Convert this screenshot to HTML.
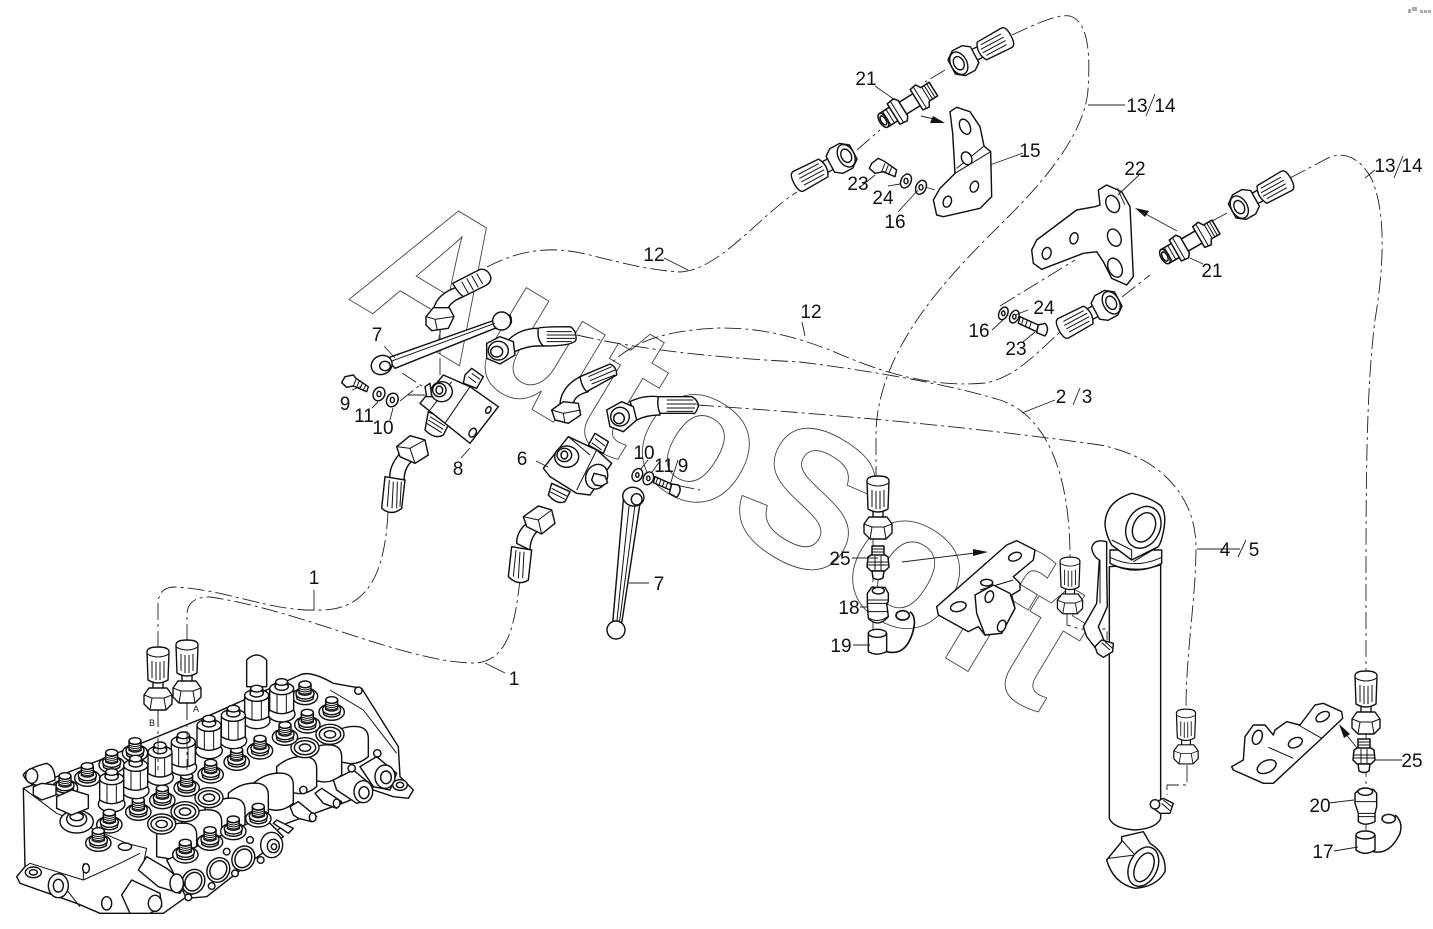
<!DOCTYPE html>
<html><head><meta charset="utf-8"><style>
html,body{margin:0;padding:0;background:#fff}
svg{display:block}
text{font-family:"Liberation Sans",sans-serif;fill:#111;text-anchor:middle}
.l{font-size:19px}
.d{fill:none;stroke:#222;stroke-width:.9;stroke-dasharray:17 4 3 4}
.s{fill:none;stroke:#222;stroke-width:.9}
.p path,.p ellipse,.p circle,.p rect,.p polygon{stroke:#111;stroke-linejoin:round}
.z{stroke-width:4.3;fill:#fff}
.r{fill:none;stroke-width:3}
</style></head><body>
<svg width="1433" height="929" viewBox="0 0 1433 929" xmlns="http://www.w3.org/2000/svg">
<defs>
<g id="fit" class="p" fill="#fff" stroke-width="1.4">
<rect x="-5" y="33" width="10" height="12"/>
<path d="M-14 47L-9 40H9L14 47V56L8 62H-8L-14 56Z"/>
<path fill="none" stroke-width="1" d="M-14 47L-6 50H6L14 47M-6 50L-8 62M6 50L8 62"/>
<path d="M-11 4Q-11 -1 0 -1Q11 -1 11 4L10 32Q0 38 -10 32Z"/>
<path fill="none" stroke-width="1" d="M-11 6Q0 12 11 6M-6 13V30M-2 14V32M2 14V32M6 13V30"/>
</g>
<g id="fitr" class="p" fill="#fff" stroke-width="1.4">
<rect x="-6" y="33" width="12" height="12"/>
<path d="M-14 47L-9 40H9L14 47V58L8 66H-8L-14 58Z"/>
<ellipse cx="0" cy="58" rx="12" ry="8"/><ellipse cx="0" cy="58" rx="7" ry="5"/>
<path d="M-11 4Q-11 -1 0 -1Q11 -1 11 4L10 32Q0 38 -10 32Z"/>
<path fill="none" stroke-width="1" d="M-6 7V30M-2 6V32M2 6V32M6 7V30"/>
</g>
<g id="nip" class="p" fill="#fff" stroke-width="1.5">
<path d="M-8 -7H12V7H-8Z"/>
<path d="M-29 -8H-14V8H-29Z"/>
<ellipse cx="-29" cy="0" rx="4" ry="8"/><ellipse cx="-29" cy="0" rx="2.5" ry="5"/>
<path fill="none" stroke-width="1" d="M-25 -8V8M-21 -8V8M-17 -8V8"/>
<path d="M-17 -12L-9 -13L-6 -9V9L-9 13L-17 12Z"/>
<path fill="none" stroke-width="1" d="M-13 -12V12"/>
<path d="M10 -12L17 -13L20 -8H30V8H20L17 13L10 12Z"/>
<path fill="none" stroke-width="1" d="M21 -8V8M24 -8V8M27 -8V8M14 -12V12"/>
</g>
<g id="n25" class="p" fill="#fff" stroke-width="1.5">
<path d="M-6 -19H6V-8H-6Z"/>
<path fill="none" stroke-width="1" d="M-6 -16H6M-6 -13H6M-6 -10H6"/>
<path d="M-10 -8L-7 -10H7L10 -8L11 2L7 6H-7L-11 2Z"/>
<path fill="none" stroke-width="1" d="M-10 -3H10M-10 0H10M-3 -9V5M3 -9V5"/>
<path d="M-6 6H6L5 13Q0 16 -5 13Z"/>
</g>
<g id="stud" class="p z">
<ellipse cx="0" cy="14" rx="38" ry="25"/>
<path d="M-26 8L-24 22Q0 36 24 22L26 8Z"/>
<ellipse cx="0" cy="6" rx="27" ry="16"/>
<path d="M-18 -22V6Q0 16 18 6V-22Z"/>
<ellipse cx="0" cy="-22" rx="18" ry="10"/>
<path class="r" d="M-18 -10Q0 0 18 -10M-18 -4Q0 6 18 -4M-18 2Q0 12 18 2M-18 -16Q0 -6 18 -16"/>
</g>
<g id="tall" class="p z">
<ellipse cx="0" cy="62" rx="40" ry="24"/>
<path d="M-36 -10V50Q0 72 36 50V-10Z"/>
<path class="r" d="M-14 -5V60M14 -5V60"/>
<ellipse cx="0" cy="-14" rx="36" ry="18"/>
<ellipse cx="0" cy="-20" rx="20" ry="11"/>
<path class="r" d="M-20 -32V-18M20 -32V-18"/>
<ellipse cx="0" cy="-34" rx="18" ry="10"/>
</g>
<g id="capb" class="p z">
<ellipse cx="0" cy="0" rx="42" ry="30"/>
<ellipse cx="0" cy="0" rx="32" ry="21"/>
<ellipse cx="0" cy="0" rx="17" ry="11"/>
</g>
<g id="block" class="p z">
<path d="M-60 -10Q-20 -45 30 -40Q60 -35 60 -5V50Q30 75 0 70L-60 60Z"/>
</g>
<g id="rp" class="p z">
<ellipse rx="33" ry="38" transform="rotate(30)"/>
<ellipse rx="24" ry="29" transform="rotate(30)"/>
</g>
</defs>

<rect width="1433" height="929" fill="#fff"/>

<!-- watermark -->
<text transform="translate(345 297) rotate(31)" x="0" y="0" style="font-size:192px;font-weight:bold;fill:#fff;stroke:#444;stroke-width:.9;text-anchor:start">AutoSoft</text>

<!-- corner mark -->
<g fill="#aaa"><rect x="1408" y="9" width="3" height="4"/><rect x="1412" y="7" width="5" height="4"/><rect x="1420" y="10" width="3" height="3"/><rect x="1424" y="10" width="3" height="3"/><rect x="1428" y="10" width="3" height="3"/></g>

<!-- dashed hoses -->
<path class="d" d="M158 648V605Q158 587 175 587C230 590 270 612 320 610C370 610 385 570 388 512"/>
<path class="d" d="M187 641V615Q187 597 210 597C300 610 400 660 470 663C510 665 515 620 520 580"/>
<path class="d" d="M487 267C520 250 550 245 590 255C630 265 650 270 680 272C720 270 760 215 797 192"/>
<path class="d" d="M1012 35C1040 22 1058 14 1070 16C1090 22 1090 60 1088 90C1085 130 1050 175 1010 215C960 265 880 340 876 430V477"/>
<path class="d" d="M1290 178L1330 157C1350 150 1365 165 1372 180C1385 210 1385 260 1375 320C1365 400 1366 500 1366 672"/>
<path class="d" d="M600 378C620 345 660 330 720 328C760 328 790 335 830 350C880 372 930 388 985 383C1015 378 1040 350 1060 332"/>
<path class="d" d="M577 335C640 350 720 358 800 362C880 372 950 385 1000 400C1045 415 1070 470 1070 558"/>
<path class="d" d="M697 405C800 412 960 425 1100 445C1165 458 1195 500 1196 545C1196 600 1186 650 1186 710"/>
<!-- short dashed connectors -->
<path class="d" d="M158 710V770M187 703V770M873 537V640M1366 732V830M1187 765V785H1167V795M1067 612V625L1080 629H1107V640M400 401L420 385M650 480L700 490M945 70L925 82M857 150L880 130M1122 297L1150 275M1227 213L1205 225"/>
<path class="d" d="M1000 306L1075 260M925 187L935 190M408 395H425M402 373L425 388"/>
<path class="d" d="M440 330V395"/>

<!-- valve block, zoom 1 -->
<g transform="translate(0 620) scale(.33333)" class="p z">
<path d="M70 505L170 470L300 420L620 290L900 165Q930 150 1000 190L1085 205L1195 380L1200 470L1240 510L1225 535L1180 530L1120 510L1040 545L860 610L560 830L490 880H300L230 850L60 790L50 770L75 740Z"/>
<path class="r" d="M70 505L170 580L380 670L440 685L430 730M75 740L90 730L250 780L360 730L420 700M250 780V730M200 810L240 860"/>
<g class="r"><path d="M990 210L1090 270L1190 400"/></g>
<ellipse cx="375" cy="680" rx="20" ry="11"/><ellipse cx="100" cy="757" rx="24" ry="16"/><ellipse cx="100" cy="757" rx="12" ry="8"/>
<ellipse cx="258" cy="745" rx="10" ry="14"/><ellipse cx="320" cy="850" rx="15" ry="20"/>
<ellipse cx="175" cy="797" rx="30" ry="36"/><ellipse cx="175" cy="797" rx="15" ry="19"/>
<use href="#block" x="1045" y="360"/><use href="#block" x="965" y="415"/><use href="#block" x="890" y="450"/><use href="#block" x="820" y="500"/><use href="#block" x="745" y="530"/><use href="#block" x="675" y="575"/><use href="#block" x="605" y="610"/><use href="#block" x="530" y="650"/>
<use href="#capb" x="990" y="343"/><use href="#capb" x="915" y="383"/><use href="#capb" x="485" y="612"/><use href="#capb" x="555" y="575"/><use href="#capb" x="627" y="533"/>
<!-- tube at rear -->
<path d="M740 200V120Q770 90 800 120V200Z"/>
<use href="#stud" x="995" y="262"/><use href="#stud" x="915" y="215"/><use href="#stud" x="922" y="300"/><use href="#stud" x="855" y="337"/><use href="#stud" x="780" y="378"/><use href="#stud" x="710" y="412"/><use href="#stud" x="632" y="450"/><use href="#stud" x="560" y="490"/><use href="#stud" x="487" y="527"/><use href="#stud" x="415" y="562"/>
<use href="#stud" x="405" y="385"/><use href="#stud" x="335" y="420"/><use href="#stud" x="262" y="460"/><use href="#stud" x="195" y="490"/>
<use href="#tall" x="845" y="220"/><use href="#tall" x="770" y="240"/><use href="#tall" x="700" y="300"/><use href="#tall" x="627" y="330"/><use href="#tall" x="550" y="380"/><use href="#tall" x="480" y="410"/><use href="#tall" x="407" y="450"/><use href="#tall" x="335" y="490"/>
<use href="#stud" x="328" y="600"/><use href="#stud" x="295" y="655"/>
<ellipse cx="230" cy="605" rx="50" ry="34"/><ellipse cx="230" cy="597" rx="30" ry="22"/><ellipse cx="230" cy="590" rx="20" ry="12"/>
<path d="M170 530L215 510L265 525V565L215 585L170 565Z"/>
<!-- elbow -->
<path d="M70 465Q80 445 140 430Q165 440 165 480L125 495Q85 500 70 465Z"/><ellipse cx="95" cy="468" rx="18" ry="22"/>
<path d="M100 500L125 490L168 495V525L125 540L100 525Z"/>
<!-- front ports -->
<path d="M500 720L790 590L850 650L620 830L560 835Z"/>
<use href="#stud" x="775" y="582"/><use href="#stud" x="700" y="620"/><use href="#stud" x="630" y="652"/><use href="#stud" x="556" y="690"/>
<use href="#rp" x="580" y="785"/><use href="#rp" x="655" y="750"/><use href="#rp" x="730" y="715"/>
<ellipse cx="815" cy="675" rx="33" ry="38"/><ellipse cx="820" cy="678" rx="18" ry="20"/><ellipse cx="822" cy="680" rx="8" ry="9"/>
<circle cx="565" cy="832" r="10"/><circle cx="635" cy="798" r="10"/><circle cx="705" cy="760" r="10"/><circle cx="782" cy="720" r="10"/><circle cx="750" cy="660" r="10"/><circle cx="680" cy="695" r="10"/>
<!-- connectors -->
<path d="M415 750L440 710L500 745L555 790L540 820L475 800Z"/><ellipse cx="530" cy="790" rx="20" ry="28"/>
<path d="M365 825L395 780L480 820L485 860L450 880H390Z"/><ellipse cx="465" cy="850" rx="20" ry="24"/>
<!-- levers -->
<path d="M870 560L895 545L950 590L935 605L895 595L880 585Z"/><ellipse cx="938" cy="592" rx="10" ry="13"/><path d="M830 600L880 625L865 640L820 610Z"/>
<path d="M945 520L965 505L1025 545L1010 565L970 550Z"/><ellipse cx="1010" cy="550" rx="10" ry="13"/>
<!-- solenoid ends -->
<path d="M1000 480L1060 450L1120 500L1105 540L1070 550L1010 510Z"/><ellipse cx="1090" cy="515" rx="28" ry="33"/><ellipse cx="1092" cy="518" rx="15" ry="18"/>
<path d="M1080 440L1130 410L1190 460L1170 510L1120 500Z"/><ellipse cx="1155" cy="470" rx="30" ry="35"/><ellipse cx="1158" cy="472" rx="16" ry="19"/>
<ellipse cx="1200" cy="495" rx="22" ry="16"/><ellipse cx="1200" cy="495" rx="11" ry="8"/>
<circle cx="1132" cy="400" r="11"/><circle cx="1055" cy="445" r="11"/><circle cx="910" cy="510" r="11"/>
<circle cx="1075" cy="212" r="11"/>
</g>
<path class="d" d="M158 710V770M187 703V770"/>
<use href="#fit" x="158" y="648"/><use href="#fit" x="187" y="641"/>
<text x="196" y="712" style="font-size:9px">A</text><text x="152" y="726" style="font-size:9px">B</text>

<!-- centre group, zoom 2 -->
<g transform="translate(330 260) scale(.33333)" class="p z">
<!-- rod upper -->
<path d="M170 295L495 180L540 165Q555 195 520 210L495 205L195 325Z"/>
<circle cx="515" cy="183" r="27"/>
<path class="r" d="M180 305L495 190"/>
<ellipse cx="155" cy="315" rx="32" ry="28" transform="rotate(-25 155 315)"/>
<ellipse cx="165" cy="318" rx="16" ry="14"/>
<!-- elbow A -->
<path d="M310 150Q320 100 385 80L400 110Q360 125 352 150Z"/>
<path d="M368 70L450 28Q470 25 480 45Q488 62 470 75L400 110Q385 100 368 70Z"/>
<path class="r" d="M395 65L415 100M410 55L430 90M425 47L445 82M440 40L458 72"/>
<path d="M288 170L310 143H358L372 170L355 205L305 212L288 195Z"/><path class="r" d="M288 170L315 178L355 172L372 170M315 178L322 210"/>
<!-- valve 8 -->
<path d="M405 345L425 325L460 350L440 385L400 370Z"/><path class="r" d="M415 350L438 368M425 340L450 358"/>
<path d="M295 455L360 485L340 525Q315 540 285 510Z"/><path class="r" d="M290 490L335 518M295 480L340 508M300 470L345 498"/>
<path d="M340 345L420 380L505 440L420 550L345 490L270 430Z"/>
<path class="r" d="M420 380L345 490M365 365L300 450"/>
<ellipse cx="475" cy="450" rx="7" ry="11" transform="rotate(30 475 450)"/><ellipse cx="428" cy="518" rx="10" ry="14" transform="rotate(30 428 518)"/>
<ellipse cx="335" cy="395" rx="32" ry="30"/><ellipse cx="328" cy="390" rx="20" ry="20"/><ellipse cx="328" cy="390" rx="10" ry="12"/>
<path d="M285 380L300 370L305 410L290 410Z"/>
<!-- washers -->
<path d="M45 350L70 345L78 355L115 380L110 395L70 378L50 382L35 368Z"/><path class="r" d="M78 358L70 378M88 362L80 382M98 368L90 385M108 374L100 390"/>
<ellipse cx="147" cy="402" rx="17" ry="21" transform="rotate(25 147 402)"/><ellipse cx="147" cy="402" rx="6" ry="8"/>
<ellipse cx="187" cy="420" rx="17" ry="21" transform="rotate(25 187 420)"/><ellipse cx="187" cy="420" rx="6" ry="8"/>
<!-- elbow B -->
<path d="M535 240Q570 205 625 205L640 258Q595 255 555 275Z"/>
<path d="M625 205Q630 200 720 200Q740 210 738 240Q730 258 640 258Q620 240 625 205Z"/>
<path class="r" d="M650 215H725M650 225H735M650 235H735M650 245H725"/>
<path d="M470 250L510 230L550 245L555 285L510 312L470 295Z"/><ellipse cx="505" cy="272" rx="30" ry="28"/><ellipse cx="500" cy="275" rx="18" ry="16"/>
<!-- elbow C -->
<path d="M690 430Q695 380 750 350L775 395Q735 405 730 430Z"/>
<path d="M750 350L840 312Q860 320 860 345L770 395Q755 380 750 350Z"/><path class="r" d="M775 350L845 320M780 362L855 330M785 372L855 345"/>
<path d="M665 450L700 425L745 430L752 465L715 490L675 480Z"/><path class="r" d="M665 450L700 460L752 450M700 460L705 490"/>
<!-- valve 6 -->
<path d="M775 555L795 520L835 545L820 580Z"/><path class="r" d="M785 548L815 570M795 535L825 558"/>
<path d="M665 670L720 695L705 725Q680 735 655 705Z"/><path class="r" d="M660 695L705 718M665 685L710 708"/>
<path d="M715 530L640 625L660 650L740 700L780 705L845 610L800 570Z"/>
<path class="r" d="M800 570L740 690M715 530L780 585"/>
<ellipse cx="710" cy="590" rx="36" ry="32"/><ellipse cx="703" cy="585" rx="22" ry="20"/><ellipse cx="703" cy="585" rx="10" ry="12"/>
<ellipse cx="800" cy="650" rx="32" ry="38" transform="rotate(25 800 650)"/><path d="M785 660L792 640L825 648L833 668L815 678L795 675Z"/>
<!-- elbow D -->
<path d="M900 425Q940 405 985 410L990 465Q950 465 920 480Z"/>
<path d="M985 410H1085Q1105 420 1105 440Q1095 465 1090 460H990Q980 440 985 410Z"/><path class="r" d="M1010 420H1090M1010 432H1100M1010 444H1095M1010 454H1090"/>
<path d="M830 450L875 425L910 440L920 480L880 515L840 500Z"/><ellipse cx="870" cy="470" rx="28" ry="28"/><ellipse cx="867" cy="475" rx="16" ry="16"/>
<!-- elbow E -->
<path d="M180 660Q175 620 210 580L250 600Q222 620 222 665Z"/>
<path d="M165 650L225 660L215 745Q185 770 155 745Z"/><path class="r" d="M178 660L172 740M190 665L186 745M202 665L200 745M214 665L210 740"/>
<path d="M200 560L240 527L285 540L295 585L255 610L210 590Z"/><path class="r" d="M200 560L240 565L285 540M240 565L255 610"/>
<!-- elbow F -->
<path d="M560 850Q560 815 590 790L625 810Q600 835 600 870Z"/>
<path d="M545 860L605 870L595 960Q565 980 535 950Z"/><path class="r" d="M558 870L550 950M570 875L565 955M582 875L578 955"/>
<path d="M580 770L625 738L665 750L675 790L635 822L590 800Z"/><path class="r" d="M580 770L625 780L665 750M625 780L635 822"/>
<!-- washers right & bolt -->
<ellipse cx="922" cy="645" rx="15" ry="20" transform="rotate(25 922 645)"/><ellipse cx="922" cy="645" rx="5" ry="7"/>
<ellipse cx="955" cy="655" rx="15" ry="20" transform="rotate(25 955 655)"/><ellipse cx="955" cy="655" rx="5" ry="7"/>
<path d="M975 650L1025 672L1020 690L970 668Z"/><path class="r" d="M983 654L977 672M993 658L987 676M1003 662L997 680M1013 667L1007 685"/>
<path d="M1025 672L1045 675Q1058 690 1040 712L1018 700Z"/>
<!-- lower rod -->
<path d="M880 720L848 1090H875L930 730Z"/><path class="r" d="M898 730L860 1090M915 735L868 1090"/>
<circle cx="858" cy="1110" r="27"/>
<ellipse cx="910" cy="710" rx="32" ry="28" transform="rotate(15 910 710)"/><ellipse cx="920" cy="718" rx="16" ry="17"/>
</g>

<!-- top group, zoom 4 -->
<g transform="translate(780 20) scale(.33333)" class="p z">
<path d="M510 275L530 262L570 275L600 320L612 378L632 395L635 530L600 565L490 590L470 585L460 540L480 505L525 460L518 340Z"/>
<path class="r" d="M612 378L530 445M632 395L525 460"/>
<ellipse cx="555" cy="320" rx="15" ry="24" transform="rotate(-25 555 320)"/><ellipse cx="560" cy="415" rx="15" ry="20" transform="rotate(-25 560 415)"/>
<ellipse cx="583" cy="500" rx="12" ry="17" transform="rotate(20 583 500)"/><ellipse cx="502" cy="545" rx="12" ry="17" transform="rotate(20 502 545)"/>
<path d="M275 430L295 415L315 425L350 450L345 470L310 455L285 460L268 445Z"/><path class="r" d="M315 430L305 455M325 436L315 460M335 442L325 465"/>
<ellipse cx="378" cy="483" rx="15" ry="22" transform="rotate(25 378 483)"/><ellipse cx="378" cy="483" rx="6" ry="8"/>
<ellipse cx="423" cy="502" rx="15" ry="22" transform="rotate(25 423 502)"/><ellipse cx="423" cy="502" rx="6" ry="8"/>
</g>
<use href="#nip" transform="translate(908 105) rotate(-32)"/>
<use href="#fitr" transform="translate(1010 36) rotate(62)"/>
<use href="#fitr" transform="translate(795 183) rotate(-118)"/>

<!-- right bracket 22, zoom 5 -->
<g transform="translate(970 150) scale(.33333)" class="p z">
<path d="M385 120L410 105L455 125L480 170L490 380L470 405L425 385L400 335L380 305L340 310L215 358L190 340L185 300L200 270L320 180L375 170L390 165Z"/>
<ellipse cx="428" cy="162" rx="19" ry="27" transform="rotate(-25 428 162)"/><ellipse cx="433" cy="263" rx="19" ry="27" transform="rotate(-25 433 263)"/><ellipse cx="435" cy="353" rx="20" ry="30" transform="rotate(-25 435 353)"/>
<ellipse cx="312" cy="265" rx="12" ry="17" transform="rotate(15 312 265)"/><ellipse cx="230" cy="310" rx="13" ry="18" transform="rotate(15 230 310)"/>
<ellipse cx="100" cy="490" rx="13" ry="20" transform="rotate(25 100 490)"/><ellipse cx="100" cy="490" rx="5" ry="7"/>
<ellipse cx="133" cy="500" rx="13" ry="20" transform="rotate(25 133 500)"/><ellipse cx="133" cy="500" rx="5" ry="7"/>
<path d="M150 500L205 525L200 545L145 520Z"/><path class="r" d="M160 505L154 525M172 510L166 530M184 515L178 535"/>
<path d="M205 525L225 520Q240 535 225 558L200 548Z"/>
</g>
<use href="#nip" transform="translate(1190 242) rotate(-30)"/>
<use href="#fitr" transform="translate(1290 179) rotate(61)"/>
<use href="#fitr" transform="translate(1060 330) rotate(-118)"/>

<!-- cylinder, zoom 3 -->
<g transform="translate(820 470) scale(.33333)" class="p z">
<path d="M868 290V1045Q880 1075 945 1080Q1010 1075 1022 1045V280Z"/>
<path d="M870 240V280Q945 320 1025 280V240Z"/><path class="r" d="M870 262Q945 300 1025 262M880 285Q945 310 1022 285"/>
<path d="M855 165Q855 95 935 70Q985 80 1020 105Q1040 125 1032 175Q1025 215 1015 230L935 270L875 225Q858 195 855 165Z"/><path class="r" d="M875 210L935 240V270M1015 230L940 275"/>
<ellipse cx="970" cy="172" rx="50" ry="65" transform="rotate(25 970 172)"/><ellipse cx="972" cy="172" rx="32" ry="46" transform="rotate(25 972 172)"/>
<path d="M815 235Q820 205 860 215V300L862 410L835 470L860 530L835 545L800 500L790 470L830 400L838 270Q820 260 815 235Z"/>
<path class="r" d="M840 270V400"/>
<path d="M825 530L845 510L880 520L878 545L850 562L832 550Z"/><path class="r" d="M845 518L870 540M855 515L878 535"/>
<path d="M1000 1000L1030 985L1060 1000L1050 1030L1020 1030L1000 1015Z"/><ellipse cx="1005" cy="1003" rx="14" ry="14"/><path class="r" d="M1030 990L1055 1010M1025 1000L1050 1022"/>
<path d="M905 1100L970 1085L990 1120Q1040 1150 1035 1205Q1010 1250 945 1255Q880 1240 860 1170L905 1115Z"/>
<path class="r" d="M865 1165L945 1155V1220M905 1110L945 1155"/>
<ellipse cx="970" cy="1190" rx="42" ry="62" transform="rotate(25 970 1190)"/><ellipse cx="972" cy="1192" rx="26" ry="46" transform="rotate(25 972 1192)"/>
<!-- bracket -->
<path d="M350 410L560 225L590 212L645 240L640 270L580 320L600 340L600 360L575 375L585 415L545 490L495 495L475 470L445 485L355 435Z"/>
<path class="r" d="M480 360L580 330M475 395L510 345"/>
<ellipse cx="585" cy="260" rx="20" ry="12" transform="rotate(-20 585 260)"/><ellipse cx="415" cy="410" rx="24" ry="14" transform="rotate(-15 415 410)"/><path d="M465 375L520 345L570 370L585 415L545 490L495 495L470 430Z"/><ellipse cx="508" cy="380" rx="12" ry="18" transform="rotate(20 508 380)"/><ellipse cx="545" cy="468" rx="12" ry="18" transform="rotate(20 545 468)"/><ellipse cx="500" cy="338" rx="18" ry="10"/>
<!-- 25, 18, 19 -->
<path d="M142 370L155 352H195L205 370V395L200 400L205 440Q175 475 145 445L142 400Z"/><path class="r" d="M142 400H205M145 425H203M142 390H205M148 445Q175 460 203 440"/><ellipse cx="175" cy="362" rx="18" ry="10"/>
<path d="M145 490Q170 470 200 490V545Q170 560 145 545Z"/><ellipse cx="172" cy="490" rx="27" ry="12"/>
<path d="M200 545Q260 560 280 480Q290 440 270 425" style="fill:none;stroke-width:5"/><ellipse cx="248" cy="436" rx="20" ry="14" style="stroke-width:5"/>
</g>
<use href="#fit" x="878" y="477"/>
<use href="#n25" transform="translate(878 565)"/>
<use href="#fit" transform="translate(1070 558) scale(.9)"/>
<use href="#fit" transform="translate(1186 710) scale(.87)"/>

<!-- lower right, zoom 6 -->
<g transform="translate(1210 650) scale(.33333)" class="p z">
<path d="M65 350L100 330L105 260L130 225L165 225L190 255L195 240L230 215L270 225L315 165L340 160L395 185L398 205L335 265L190 400L160 400L70 360Z"/>
<path class="r" d="M175 292L250 325M265 225L335 265"/>
<ellipse cx="142" cy="262" rx="14" ry="22" transform="rotate(20 142 262)"/><ellipse cx="256" cy="278" rx="22" ry="14" transform="rotate(-25 256 278)"/><ellipse cx="338" cy="200" rx="22" ry="13" transform="rotate(-30 338 200)"/><ellipse cx="170" cy="350" rx="30" ry="18" transform="rotate(-25 170 350)"/>
<path d="M435 430L448 418H490L500 430V470L495 490L495 515Q465 530 445 515V490L435 460Z"/><path class="r" d="M435 455H500M445 490H495M445 500H495"/><ellipse cx="466" cy="425" rx="22" ry="11"/>
<path d="M438 555Q465 535 495 555V600Q465 620 438 600Z"/><ellipse cx="466" cy="555" rx="28" ry="12"/>
<path d="M490 605Q540 615 570 550Q580 515 555 495" style="fill:none;stroke-width:4.5"/><ellipse cx="536" cy="506" rx="20" ry="13" style="stroke-width:4.5"/>
</g>
<use href="#fit" x="1366" y="672"/>
<use href="#n25" transform="translate(1364 758)"/>

<!-- arrows -->
<path class="s" d="M921 116L938 120M1142 212L1177 231M902 562L975 553M1341 728L1357 748"/>
<g fill="#111"><path d="M945 123L930 123L933 116Z"/><path d="M1135 208L1149 211L1145 217Z"/><path d="M988 552L973 549L973 556Z"/><path d="M1339 724L1350 734L1344 738Z"/></g>

<!-- leader lines -->
<path class="s" d="M314 590V610M485 663L505 673M664 258L688 270M802 322L805 336M1023 153L990 165M875 86L895 100M1125 205L1118 190V188M1139 175L1118 195M1203 264L1190 258M859 188L875 175M888 186L900 184M898 212L918 190M1125 105H1088M1375 170L1365 178M992 330L1003 320M1028 310L1015 315M1023 342L1035 332M1055 400L1022 413M1240 549H1197M384 346L395 358M352 390L362 386M372 408L378 402M390 420L393 408M461 458L470 448M536 461L548 467M648 460L640 470M660 461L652 472M678 460L670 485M649 583H629M852 558H878M860 607H868M853 645H870M1402 760H1375M1329 803L1354 800M1334 851L1358 847"/>

<!-- labels -->
<g class="l">
<text x="314" y="584">1</text><text x="514" y="685">1</text>
<text x="654" y="261">12</text><text x="811" y="318">12</text>
<text x="866" y="85">21</text><text x="1030" y="157">15</text>
<text x="858" y="190">23</text><text x="883" y="204">24</text><text x="895" y="228">16</text>
<text x="1135" y="175">22</text><text x="1212" y="277">21</text>
<text x="1044" y="314">24</text><text x="979" y="337">16</text><text x="1016" y="355">23</text>
<text x="1137" y="112">13</text><text x="1165" y="112">14</text>
<text x="1385" y="172">13</text><text x="1412" y="172">14</text>
<text x="377" y="341">7</text><text x="345" y="410">9</text><text x="364" y="422">11</text><text x="383" y="434">10</text>
<text x="458" y="475">8</text><text x="522" y="465">6</text>
<text x="644" y="459">10</text><text x="664" y="472">11</text><text x="683" y="472">9</text>
<text x="659" y="590">7</text>
<text x="1061" y="403">2</text><text x="1087" y="403">3</text>
<text x="1225" y="556">4</text><text x="1254" y="556">5</text>
<text x="840" y="565">25</text><text x="849" y="614">18</text><text x="841" y="652">19</text>
<text x="1412" y="767">25</text><text x="1320" y="812">20</text><text x="1323" y="858">17</text>
</g>
<path class="s" d="M1146 116L1155 94M1394 178L1403 156M1073 405L1080 388M1238 557L1246 540"/>
</svg>
</body></html>
